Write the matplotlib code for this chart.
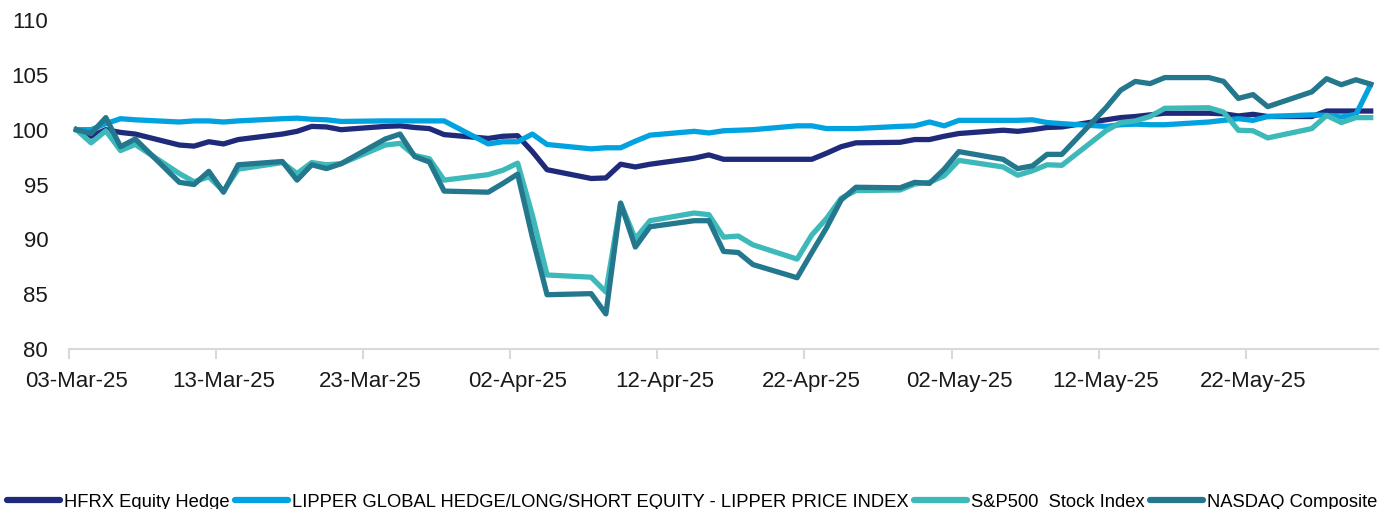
import numpy as np
import pandas as pd
import matplotlib
matplotlib.use('Agg')
import matplotlib.pyplot as plt

plt.rcParams['font.family'] = ['Liberation Sans', 'DejaVu Sans']

# Weekdays from 03-Mar-25 to 30-May-25 (index = 100 on 03-Mar-25)
dates = pd.bdate_range('2025-03-03', '2025-05-30')

hfrx = [100.0, 99.4, 100.0, 99.75, 99.6,
        98.6, 98.5, 98.9, 98.7, 99.1,
        99.6, 99.85, 100.3, 100.25, 100.0,
        100.3, 100.35, 100.2, 100.1, 99.55,
        99.2, 99.4, 99.45, 98.0, 96.35,
        95.55, 95.6, 96.85, 96.6, 96.85,
        97.4, 97.7, 97.3, 97.3, 97.3,
        97.3, 97.3, 97.85, 98.45, 98.8,
        98.85, 99.1, 99.1, 99.4, 99.65,
        99.95, 99.85, 100.0, 100.2, 100.25,
        100.9, 101.1, 101.2, 101.35, 101.5,
        101.5, 101.45, 101.25, 101.4, 101.2,
        101.2, 101.7, 101.7, 101.7, 101.7]

lipper = [100.0, 100.0, 100.55, 101.0, 100.9,
          100.7, 100.8, 100.8, 100.7, 100.8,
          101.0, 101.05, 100.95, 100.9, 100.75,
          100.8, 100.8, 100.8, 100.8, 100.8,
          98.7, 98.9, 98.9, 99.6, 98.65,
          98.25, 98.35, 98.35, 98.95, 99.5,
          99.85, 99.7, 99.9, 99.95, 100.0,
          100.35, 100.35, 100.1, 100.1, 100.1,
          100.3, 100.35, 100.7, 100.35, 100.85,
          100.85, 100.85, 100.9, 100.65, 100.55,
          100.3, 100.45, 100.5, 100.45, 100.45,
          100.7, 100.85, 101.0, 100.85, 101.2,
          101.35, 101.3, 101.15, 101.4, 104.1]

sp500 = [100.0, 98.8, 99.9, 98.1, 98.65,
         96.0, 95.25, 95.7, 94.4, 96.4,
         97.0, 96.0, 97.0, 96.8, 96.9,
         98.6, 98.75, 97.65, 97.35, 95.4,
         95.9, 96.3, 96.95, 92.2, 86.75,
         86.55, 85.2, 93.3, 90.05, 91.7,
         92.4, 92.25, 90.2, 90.3, 89.5,
         88.2, 90.4, 91.9, 93.75, 94.45,
         94.5, 95.05, 95.2, 95.8, 97.2,
         96.6, 95.85, 96.25, 96.8, 96.75,
         99.9, 100.65, 100.8, 101.2, 101.95,
         102.0, 101.6, 99.95, 99.9, 99.25,
         100.1, 101.3, 100.65, 101.1, 101.1]

nasdaq = [100.0, 99.65, 101.1, 98.45, 99.15,
          95.2, 95.0, 96.2, 94.3, 96.8,
          97.1, 95.4, 96.8, 96.45, 96.9,
          99.15, 99.6, 97.55, 97.05, 94.4,
          94.3, 95.1, 95.95, 90.2, 84.95,
          85.05, 83.2, 93.3, 89.3, 91.15,
          91.7, 91.7, 88.9, 88.8, 87.7,
          86.5, 88.8, 91.05, 93.6, 94.75,
          94.7, 95.2, 95.1, 96.4, 98.0,
          97.3, 96.45, 96.7, 97.75, 97.75,
          102.0, 103.6, 104.4, 104.2, 104.75,
          104.75, 104.4, 102.85, 103.2, 102.1,
          103.45, 104.65, 104.1, 104.55, 104.15]

labels = ['HFRX Equity Hedge',
          'LIPPER GLOBAL HEDGE/LONG/SHORT EQUITY - LIPPER PRICE INDEX',
          'S&P500  Stock Index',
          'NASDAQ Composite']
colors = ['#1f2a7a', '#00a3e0', '#3db9b9', '#24788e']
tick_dates = pd.date_range('2025-03-03', periods=9, freq='10D')

fig = plt.figure(figsize=(13.84, 5.09), dpi=100)
ax = fig.add_axes([0.0499, 0.3143, 0.9458, 0.6464])

# points sit in the middle of each day slot (date axis, between tick marks)
x = dates + pd.Timedelta(hours=12)
for series, label, color in zip([hfrx, lipper, sp500, nasdaq], labels, colors):
    ax.plot(x, series, color=color, lw=3.8, label=label, solid_joinstyle='round')

ax.set_ylim(80, 110)
ax.set_yticks(np.arange(80, 111, 5))
ax.set_xlim(pd.Timestamp('2025-03-03'), pd.Timestamp('2025-05-31'))

# tick marks at day boundaries, labels centred on the day
ax.set_xticks(tick_dates)
ax.set_xticklabels([])
ax.set_xticks(tick_dates + pd.Timedelta(hours=12), minor=True)
ax.set_xticklabels([d.strftime('%d-%b-%y') for d in tick_dates], minor=True)
ax.tick_params(axis='x', which='major', length=7, width=1.5, color='#d9d9d9')
ax.tick_params(axis='x', which='minor', length=0, pad=16, labelsize=16, labelcolor='#1a1a1a')
ax.tick_params(axis='y', length=0, pad=15, labelsize=16, labelcolor='#1a1a1a')

for side in ['left', 'right', 'top']:
    ax.spines[side].set_visible(False)
ax.spines['bottom'].set_color('#d9d9d9')
ax.spines['bottom'].set_linewidth(1.5)

fig.legend(loc='center', bbox_to_anchor=(0.5, 0.013), ncol=4, frameon=False,
           fontsize=13.2, handlelength=2.9, handletextpad=0.2, columnspacing=0.3,
           borderpad=0, borderaxespad=0)
for line in fig.legends[0].get_lines():
    line.set_linewidth(4.5)
    line.set_solid_capstyle('round')

plt.savefig('out.png', dpi=100)
